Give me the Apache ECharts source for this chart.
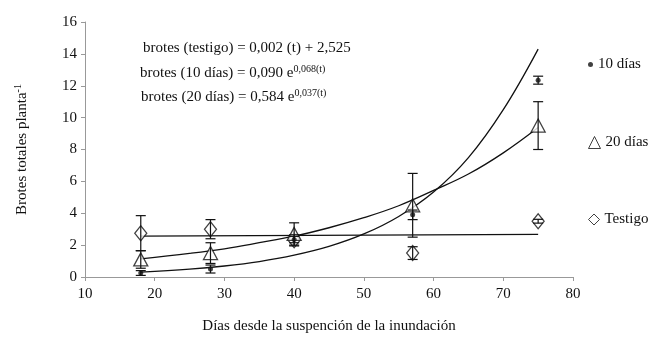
<!DOCTYPE html>
<html>
<head>
<meta charset="utf-8">
<script src="https://cdn.jsdelivr.net/npm/echarts@6/dist/echarts.min.js"></script>
<style>
  html, body { margin: 0; padding: 0; background: #fff; }
  #chart { width: 650px; height: 347px; }
</style>
</head>
<body>
<div id="chart"></div>
<script>
// dias de medicion
var dias = [18, 28, 40, 57, 75];

// medias y error
var d10Media = [0.25, 0.5, 2.35, 3.9, 12.35];
var d10Error = [0.15, 0.25, 0.2, 0.3, 0.25];
var d20Media = [1.1, 1.5, 2.7, 4.5, 9.5];
var d20Error = [0.55, 0.65, 0.7, 2.0, 1.5];
var testMedia = [2.75, 3.0, 2.3, 1.5, 3.5];
var testError = [1.1, 0.6, 0.35, 0.4, 0.12];

// curvas de ajuste
var curvaT = [18, 25, 30, 35, 40, 45, 50, 55, 60, 65, 70, 75];
var curva10 = [0.31, 0.49, 0.69, 0.97, 1.37, 1.92, 2.7, 3.8, 5.33, 7.49, 10.5, 14.3];
var curva20 = [1.14, 1.48, 1.77, 2.15, 2.56, 3.09, 3.72, 4.47, 5.43, 6.46, 7.79, 9.38];
var lineaTestigo = [[18, 2.56], [75, 2.68]];

var xTicks = [10, 20, 30, 40, 50, 60, 70, 80];
var yTicks = [0, 2, 4, 6, 8, 10, 12, 14, 16];

var serif = '"Liberation Serif", "DejaVu Serif", serif';

function pares(xs, ys) {
    return xs.map(function (x, i) { return [x, ys[i]]; });
}
function barras(xs, m, e) {
    return xs.map(function (x, i) { return [x, m[i] - e[i], m[i] + e[i]]; });
}

function errorItem(params, api) {
    var x = api.value(0);
    var top = api.coord([x, api.value(2)]);
    var bot = api.coord([x, api.value(1)]);
    var w = 5;
    var st = { stroke: '#111', lineWidth: 1.2 };
    return {
        type: 'group',
        children: [
            { type: 'line', shape: { x1: top[0], y1: top[1], x2: bot[0], y2: bot[1] }, style: st },
            { type: 'line', shape: { x1: top[0] - w, y1: top[1], x2: top[0] + w, y2: top[1] }, style: st },
            { type: 'line', shape: { x1: bot[0] - w, y1: bot[1], x2: bot[0] + w, y2: bot[1] }, style: st }
        ]
    };
}

function curva(datos) {
    return {
        type: 'line', data: datos, smooth: 0.4, showSymbol: false, silent: true,
        lineStyle: { color: '#111', width: 1.3 }, z: 2
    };
}

function errorSerie(datos) {
    return { type: 'custom', renderItem: errorItem, data: datos, z: 5, silent: true };
}

function leyenda(nombre, top, size) {
    return {
        data: [nombre], left: 583, top: top, itemWidth: size, itemHeight: size,
        itemStyle: { borderWidth: 1 },
        textStyle: { fontFamily: serif, fontSize: 15, color: '#111' }, selectedMode: false
    };
}

var chart = echarts.init(document.getElementById('chart'));

var eqStyle = {
    fontFamily: serif, fontSize: 15, fill: '#111',
    rich: { sup: { fontFamily: serif, fontSize: 10, fill: '#111', padding: [0, 0, 8, 0] } }
};

chart.setOption({
    backgroundColor: '#fff',
    animation: false,
    grid: { left: 85, right: 77, top: 22, bottom: 70 },
    legend: [
        leyenda('10 días', 52, 5),
        leyenda('20 días', 130, 12),
        leyenda('Testigo', 207, 11)
    ],
    xAxis: {
        type: 'value', min: 10, max: 80, interval: 10,
        name: 'Días desde la suspención de la inundación',
        nameLocation: 'middle', nameGap: 42,
        nameTextStyle: { fontFamily: serif, fontSize: 15, color: '#111' },
        axisLine: { lineStyle: { color: '#999' } },
        axisTick: { lineStyle: { color: '#999' }, length: 4 },
        splitLine: { show: false },
        axisLabel: {
            fontFamily: serif, fontSize: 15, color: '#111', margin: 10,
            formatter: function (v) { return xTicks.indexOf(v) >= 0 ? v : ''; }
        }
    },
    yAxis: {
        type: 'value', min: 0, max: 16, interval: 2,
        name: 'Brotes totales planta{sup|-1}',
        nameLocation: 'middle', nameGap: 54, nameRotate: 90,
        nameTextStyle: {
            fontFamily: serif, fontSize: 15, color: '#111',
            rich: { sup: { fontFamily: serif, fontSize: 10, color: '#111', padding: [0, 0, 8, 0] } }
        },
        axisLine: { show: true, lineStyle: { color: '#999' } },
        axisTick: { show: true, lineStyle: { color: '#999' }, length: 4 },
        splitLine: { show: false },
        axisLabel: {
            fontFamily: serif, fontSize: 15, color: '#111', margin: 8,
            formatter: function (v) { return yTicks.indexOf(v) >= 0 ? v : ''; }
        }
    },
    graphic: [
        { type: 'text', left: 143, top: 41, style: Object.assign({ text: 'brotes (testigo) = 0,002 (t) + 2,525' }, eqStyle) },
        { type: 'text', left: 140, top: 64, style: Object.assign({ text: 'brotes (10 días) = 0,090 e{sup|0,068(t)}' }, eqStyle) },
        { type: 'text', left: 141, top: 88, style: Object.assign({ text: 'brotes (20 días) = 0,584 e{sup|0,037(t)}' }, eqStyle) }
    ],
    series: [
        curva(pares(curvaT, curva10)),
        curva(pares(curvaT, curva20)),
        curva(lineaTestigo),
        {
            name: 'Testigo', type: 'scatter', data: pares(dias, testMedia),
            symbol: 'diamond', symbolSize: [12, 15], z: 3,
            itemStyle: { color: '#fff', borderColor: '#111', borderWidth: 1.3 }
        },
        {
            name: '20 días', type: 'scatter', data: pares(dias, d20Media),
            symbol: 'triangle', symbolSize: [14, 13], z: 3,
            itemStyle: { color: '#fff', borderColor: '#111', borderWidth: 1.3 }
        },
        {
            name: '10 días', type: 'scatter', data: pares(dias, d10Media),
            symbol: 'circle', symbolSize: 5, z: 4,
            itemStyle: { color: '#111' }
        },
        errorSerie(barras(dias, testMedia, testError)),
        errorSerie(barras(dias, d20Media, d20Error)),
        errorSerie(barras(dias, d10Media, d10Error))
    ]
});
</script>
</body>
</html>
